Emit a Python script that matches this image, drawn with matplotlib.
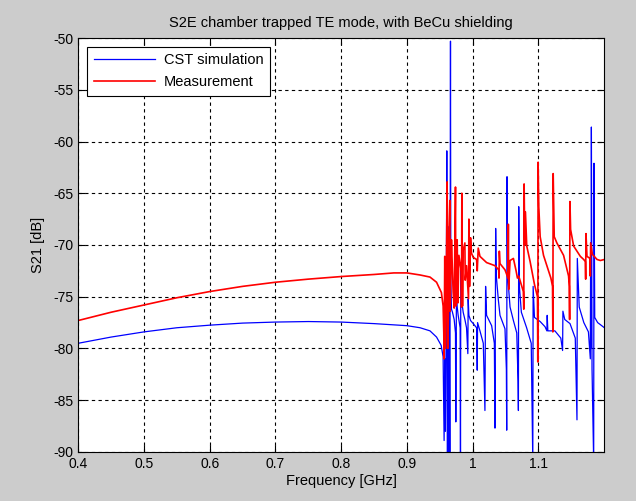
import matplotlib
matplotlib.use("Agg")
import matplotlib.pyplot as plt

plt.rcParams['font.family'] = ['Liberation Sans', 'DejaVu Sans']
plt.rcParams['axes.unicode_minus'] = False

# values (frequency in GHz, S21 in dB)
cst_freq = [0.40, 0.45, 0.50, 0.55, 0.60, 0.65, 0.70, 0.75, 0.80, 0.85, 0.90, 0.92, 0.935, 0.945, 0.952, 0.955,
            0.9565, 0.9575, 0.9585, 0.9596, 0.9606, 0.9616, 0.9621, 0.9631, 0.9641, 0.9652, 0.9662, 0.9667,
            0.9677, 0.9692, 0.9718, 0.9738, 0.9743, 0.9753, 0.9764, 0.9779, 0.9809, 0.9814, 0.9819, 0.9835,
            0.9855, 0.9881, 0.9906, 0.9926, 0.9931, 0.9942, 0.9967, 1.0008, 1.0059, 1.0069, 1.0074, 1.0110,
            1.0161, 1.0186, 1.0196, 1.0211, 1.0288, 1.0329, 1.0339, 1.0349, 1.0359, 1.0390, 1.0415, 1.0491,
            1.0512, 1.0517, 1.0522, 1.0532, 1.0568, 1.0619, 1.0670, 1.0690, 1.0695, 1.0700, 1.0710, 1.0740,
            1.0820, 1.0890, 1.0914, 1.0919, 1.0939, 1.1026, 1.1100, 1.1128, 1.1133, 1.1143, 1.1250, 1.1340,
            1.1367, 1.1372, 1.1400, 1.1480, 1.1560, 1.1586, 1.1591, 1.1620, 1.1690, 1.1760, 1.1789, 1.1794,
            1.1800, 1.1805, 1.1815, 1.1840, 1.1845, 1.1856, 1.1900, 1.1942, 1.2003]
cst_s21 = [-79.5, -78.9, -78.4, -78.0, -77.75, -77.55, -77.45, -77.4, -77.45, -77.6, -77.8, -78.0, -78.3, -78.9, -79.7, -80.8,
           -88.9, -81.0, -88.0, -78.9, -60.9, -91.0, -68.2, -91.0, -70.1, -91.0, -50.3, -73.5,
           -76.2, -76.5, -77.2, -78.5, -87.1, -74.1, -76.0, -76.8, -78.0, -91.0, -71.7, -75.5,
           -76.5, -77.2, -78.0, -80.5, -75.2, -76.8, -77.3, -77.6, -78.0, -82.1, -77.5, -78.3,
           -79.5, -86.0, -74.0, -76.8, -77.8, -79.5, -87.7, -68.4, -73.0, -75.3, -76.8, -78.1,
           -82.0, -87.9, -63.4, -73.0, -76.0, -77.3, -78.5, -83.2, -86.0, -66.3, -74.0, -76.5,
           -78.0, -79.5, -91.0, -74.0, -77.0, -77.4, -77.9, -78.3, -76.8, -78.3, -78.3, -79.0,
           -80.2, -76.4, -77.2, -77.6, -79.0, -86.9, -71.3, -76.0, -77.5, -78.4, -81.0, -69.8,
           -80.0, -58.6, -82.0, -91.0, -62.1, -77.0, -77.5, -77.7, -78.0]

meas_freq = [0.40, 0.45, 0.50, 0.55, 0.60, 0.65, 0.70, 0.75, 0.80, 0.85, 0.88, 0.90, 0.92, 0.935, 0.945, 0.9524, 0.955,
             0.9560, 0.9565, 0.9575, 0.9585, 0.9596, 0.9611, 0.9621, 0.9631, 0.9641, 0.9652, 0.9657, 0.9677,
             0.9692, 0.9702, 0.9718, 0.9738, 0.9743, 0.9753, 0.9764, 0.9774, 0.9790, 0.9825, 0.9830, 0.9835,
             0.9845, 0.9855, 0.9881, 0.9886, 0.9906, 0.9936, 0.9942, 0.9952, 0.9967, 0.9982, 1.0008, 1.0059,
             1.0069, 1.0084, 1.0110, 1.0211, 1.0339, 1.0395, 1.0400, 1.0405, 1.0415, 1.0491, 1.0537, 1.0542,
             1.0547, 1.0568, 1.0619, 1.0660, 1.0680, 1.0700, 1.0770, 1.0777, 1.0782, 1.0792, 1.0802, 1.0822,
             1.0873, 1.0939, 1.0985, 1.0990, 1.0995, 1.1005, 1.1026, 1.1077, 1.1189, 1.1214, 1.1219, 1.1224,
             1.1240, 1.1280, 1.1382, 1.1458, 1.1469, 1.1474, 1.1479, 1.1489, 1.1535, 1.1637, 1.1688, 1.1713,
             1.1718, 1.1723, 1.1738, 1.1784, 1.1789, 1.1794, 1.1820, 1.1891, 1.1942, 1.2003]
meas_s21 = [-77.3, -76.5, -75.8, -75.1, -74.5, -74.0, -73.6, -73.3, -73.05, -72.85, -72.7, -72.7, -72.9, -73.1, -73.6, -74.6, -75.9,
            -78.5, -81.0, -71.1, -80.0, -75.5, -63.9, -80.0, -76.8, -68.5, -65.7, -76.4, -69.5,
            -72.5, -74.5, -76.1, -64.4, -75.9, -71.5, -69.5, -75.6, -71.0, -72.5, -76.0, -65.0,
            -75.9, -70.5, -69.8, -73.4, -72.0, -75.2, -67.5, -74.0, -69.3, -70.8, -71.2, -71.4,
            -72.5, -70.3, -71.1, -71.7, -72.0, -72.4, -73.2, -70.6, -71.8, -72.4, -73.2, -68.0,
            -74.3, -71.5, -71.3, -72.5, -73.2, -73.0, -74.5, -76.2, -64.1, -70.0, -66.8, -70.1,
            -71.6, -73.8, -75.0, -81.3, -62.0, -66.3, -69.2, -71.0, -73.2, -74.0, -78.4, -63.1,
            -69.2, -69.8, -71.0, -73.0, -74.0, -77.2, -65.8, -68.5, -70.1, -71.1, -71.4, -71.6,
            -73.3, -68.9, -71.1, -71.3, -73.0, -69.8, -70.9, -71.4, -71.5, -71.4]

xticks = [0.4, 0.5, 0.6, 0.7, 0.8, 0.9, 1.0, 1.1]
xticklabels = ['0.4', '0.5', '0.6', '0.7', '0.8', '0.9', '1', '1.1']
yticks = [-90, -85, -80, -75, -70, -65, -60, -55, -50]

fig = plt.figure(figsize=(6.36, 5.01), dpi=100, facecolor='#cccccc')
ax = fig.add_axes([0.123, 0.098, 0.827, 0.826])
ax.set_facecolor('white')

ax.plot(cst_freq, cst_s21, color='#0000ff', lw=0.9, label='CST simulation')
ax.plot(meas_freq, meas_s21, color='#ff0000', lw=1.2, label='Measurement')

ax.set_xlim(0.4, 1.2)
ax.set_ylim(-90, -50)
ax.set_xticks(xticks)
ax.set_xticklabels(xticklabels)
ax.set_yticks(yticks)
ax.tick_params(direction='in', top=True, right=True, length=5, labelsize=10, colors='black')
ax.grid(True, color='black', linestyle=(0, (3, 3)), linewidth=0.8)
for s in ax.spines.values():
    s.set_linewidth(0.8)

ax.set_title('S2E chamber trapped TE mode, with BeCu shielding', fontsize=10.5, pad=8)
ax.set_xlabel('Frequency [GHz]', fontsize=10.5, labelpad=2)
ax.set_ylabel('S21 [dB]', fontsize=10.5, labelpad=6)

leg = ax.legend(loc='upper left', fontsize=10.5, handlelength=4.2, handletextpad=0.6, fancybox=False,
                framealpha=1, edgecolor='black', borderaxespad=0.6, labelspacing=0.55, borderpad=0.45)
leg.get_frame().set_linewidth(0.8)

fig.savefig('out.png', dpi=100, facecolor=fig.get_facecolor())
